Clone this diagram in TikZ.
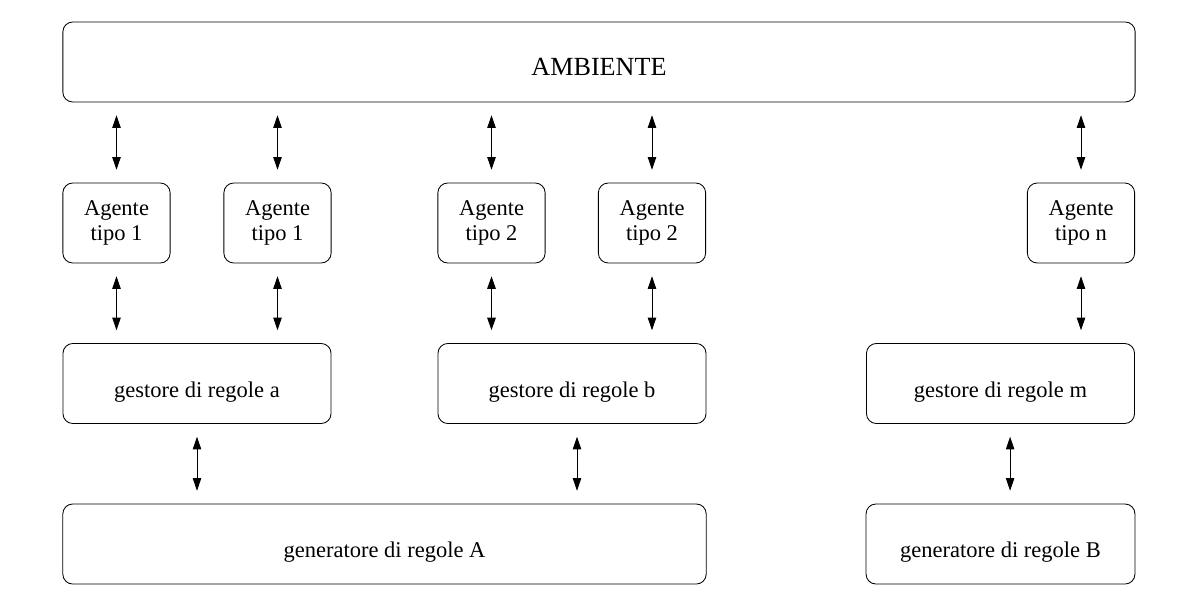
\documentclass[tikz,border=0pt]{standalone}
\usepackage{fontspec}
\setmainfont{Liberation Serif}
\usepackage{tikz}
\usetikzlibrary{positioning,arrows.meta}

\tikzset{
  box/.style={draw, line width=0.6pt, rounded corners=7pt, minimum height=2cm,
    inner sep=0pt, font=\fontsize{16}{18.4}\selectfont},
  onerow/.style={text height=19.5pt, text depth=0pt},
  agentbox/.style={box, minimum width=2.68cm, align=center},
  rulebox/.style={box, onerow, minimum width=6.7cm},
  link/.style={{Triangle[length=9pt,width=6pt]}-{Triangle[length=9pt,width=6pt]},
    line width=0.6pt, shorten <=0.32cm, shorten >=0.32cm}
}

\begin{document}
\begin{tikzpicture}[x=0.025cm,y=-0.025cm]
  \useasboundingbox (0,0) rectangle (1198,605);

  % environment
  \node[box, onerow, minimum width=26.8cm, font=\fontsize{18.6}{22}\selectfont] (amb) at (599,62) {AMBIENTE};

  % agents
  \node[agentbox] (ag1) at (116.5,223) {Agente\\tipo 1};
  \node[agentbox] (ag2) at (277.5,223) {Agente\\tipo 1};
  \node[agentbox] (ag3) at (491.5,223) {Agente\\tipo 2};
  \node[agentbox] (ag4) at (652,223) {Agente\\tipo 2};
  \node[agentbox] (agn) at (1081,223) {Agente\\tipo n};

  % rule managers
  \node[rulebox] (gra) at (197,383.5) {gestore di regole a};
  \node[rulebox] (grb) at (572,383.5) {gestore di regole b};
  \node[rulebox] (grm) at (1000.5,383.5) {gestore di regole m};

  % rule generators
  \node[box, onerow, minimum width=16.08cm] (genA) at (384.5,544) {generatore di regole A};
  \node[box, onerow, minimum width=6.72cm] (genB) at (1000.5,544) {generatore di regole B};

  % links
  \foreach \a in {ag1,ag2,ag3,ag4,agn} {
    \draw[link] (amb.south -| \a.north) -- (\a.north);
  }
  \draw[link] (ag1.south) -- (ag1.south |- gra.north);
  \draw[link] (ag2.south) -- (ag2.south |- gra.north);
  \draw[link, line width=1.2pt] (ag3.south) -- (ag3.south |- grb.north);
  \draw[link] (ag4.south) -- (ag4.south |- grb.north);
  \draw[link] (agn.south) -- (agn.south |- grm.north);

  \coordinate (pa) at (gra.south);
  \coordinate (pb) at ([xshift=0.125cm]grb.south);
  \coordinate (pm) at ([xshift=0.24cm]grm.south);
  \draw[link] (pa) -- (pa |- genA.north);
  \draw[link] (pb) -- (pb |- genA.north);
  \draw[link] (pm) -- (pm |- genB.north);
\end{tikzpicture}
\end{document}
